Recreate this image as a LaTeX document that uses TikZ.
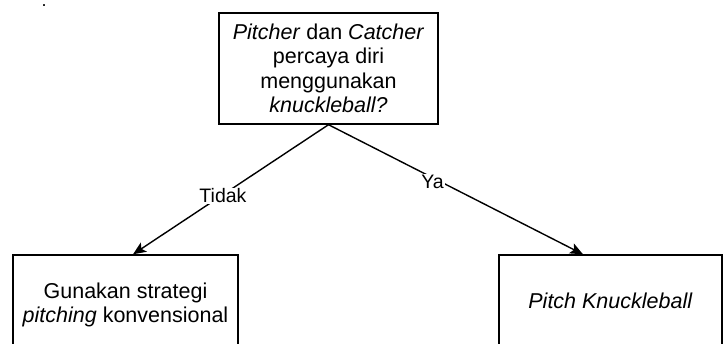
\documentclass[tikz,border=0pt]{standalone}
\usepackage{fontspec}
\setmainfont{Liberation Sans}
\usetikzlibrary{arrows.meta,calc}
\begin{document}
\begin{tikzpicture}[x=1pt,y=-1pt,
  box/.style={draw=black, line width=1.4pt, fill=white, align=center, inner sep=0pt,
    font=\fontsize{21.5}{24.5}\selectfont},
  lbl/.style={fill=white, inner sep=1pt, font=\fontsize{19.5}{22}\selectfont},
  conn/.style={line width=1.4pt, -{Stealth[length=13pt,width=11pt,inset=3pt]}}]
\useasboundingbox (0,0) rectangle (727,344);
\node[anchor=base, inner sep=0pt, font=\fontsize{18}{18}\selectfont] (dot) at (44,6.5) {.};
\node[box, minimum width=219pt, minimum height=111pt] (q) at (328.5,68.5)
  {\textit{Pitcher} dan \textit{Catcher}\\percaya diri\\menggunakan\\\textit{knuckleball?}};
\node[box, minimum width=225pt, minimum height=100pt] (no) at (125.5,305)
  {Gunakan strategi\\\textit{pitching} konvensional};
\node[box, minimum width=223pt, minimum height=92pt] (yes) at (610.5,301)
  {\textit{Pitch Knuckleball}};
\draw[conn] (q.south) -- ($(no.north)+(7.5,0)$) node[lbl, pos=0.55, xshift=2pt] {Tidak};
\draw[conn] (q.south) -- ($(yes.north)+(-27.5,0)$) node[lbl, pos=0.44, xshift=-8pt] {Ya};
\end{tikzpicture}
\end{document}
